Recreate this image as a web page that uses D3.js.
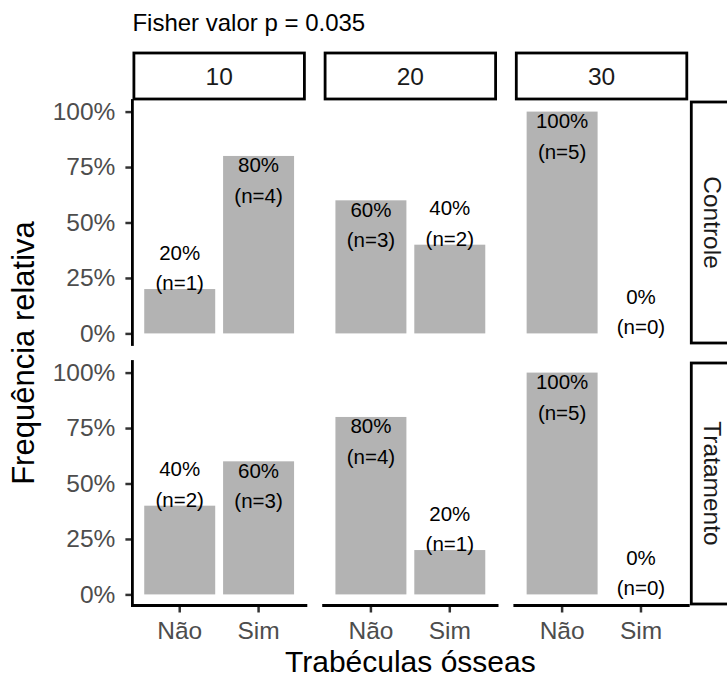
<!DOCTYPE html>
<html><head><meta charset="utf-8">
<script src="https://cdn.jsdelivr.net/npm/d3@7"></script>
<style>
body{margin:0;background:#fff}
svg{display:block}
text{font-family:"Liberation Sans",Arial,sans-serif}
</style>
</head><body><svg id="chart" width="727" height="679"></svg>
<script>
// ---- data ----
const doses = ["10", "20", "30"];
const groups = ["Controle", "Tratamento"];
const categories = ["Não", "Sim"];
const yTicks = [0, 0.25, 0.5, 0.75, 1];
const yTickLabels = ["0%", "25%", "50%", "75%", "100%"];
// per dose: [Não, Sim]
const pctControle = [[20, 80], [60, 40], [100, 0]];
const nControle = [[1, 4], [3, 2], [5, 0]];
const pctTratamento = [[40, 60], [80, 20], [100, 0]];
const nTratamento = [[2, 3], [4, 1], [5, 0]];
const titleText = "Fisher valor p = 0.035";
const xTitleText = "Trabéculas ósseas";
const yTitleText = "Frequência relativa";

// ---- layout ----
const svg = d3.select("#chart");
const panelLeft = 132.4, panelW = 173.5, gapX = 17.7;
const panelTop = 100.5, panelH = 244, gapY = 17;
const colX = doses.map((d, i) => panelLeft + i * (panelW + gapX));
const rowY = groups.map((g, i) => panelTop + i * (panelH + gapY));
const rightEdge = colX[2] + panelW;
const barFill = "#B3B3B3";
const labelFs = 20.5, lineGap = 30.5;
const axisFs = 24.5;

const pctRows = [pctControle, pctTratamento];
const nRows = [nControle, nTratamento];

const x = d3.scaleBand().domain(categories).range([0, panelW]).paddingInner(0.1).paddingOuter(0.15);
const y = d3.scaleLinear().domain([-0.05, 1.05]).range([panelH, 0]);

// title
svg.append("text").attr("x", panelLeft).attr("y", 30.5)
  .attr("font-size", 24).attr("fill", "#000").text(titleText);

groups.forEach((g, ri) => {
  doses.forEach((d, ci) => {
    const gp = svg.append("g").attr("transform", `translate(${colX[ci]},${rowY[ri]})`);
    const cells = categories.map((c, k) => ({
      cat: c, pct: pctRows[ri][ci][k], n: nRows[ri][ci][k]
    }));
    gp.selectAll("rect.bar").data(cells).enter().append("rect")
      .attr("class", "bar")
      .attr("x", e => x(e.cat))
      .attr("width", x.bandwidth())
      .attr("y", e => y(e.pct / 100))
      .attr("height", e => y(0) - y(e.pct / 100))
      .attr("fill", barFill);
    // labels (vjust = "inward")
    const lab = gp.selectAll("g.lab").data(cells).enter().append("g").attr("class", "lab");
    lab.each(function (e) {
      const cx = x(e.cat) + x.bandwidth() / 2;
      const yy = y(e.pct / 100);
      const inside = e.pct > 50;
      const b1 = inside ? yy + 16.5 : yy + 1 - lineGap;
      const sel = d3.select(this);
      sel.append("text").attr("x", cx).attr("y", b1).attr("text-anchor", "middle")
        .attr("font-size", labelFs).attr("fill", "#000").text(e.pct + "%");
      sel.append("text").attr("x", cx).attr("y", b1 + lineGap).attr("text-anchor", "middle")
        .attr("font-size", labelFs).attr("fill", "#000").text("(n=" + e.n + ")");
    });

    // y axis on first column
    if (ci === 0) {
      const ya = gp.append("g").call(
        d3.axisLeft(y).tickValues(yTicks).tickFormat((v, i) => yTickLabels[i])
          .tickSize(7).tickSizeOuter(0).tickPadding(10));
      ya.select(".domain").remove();
      ya.selectAll(".tick line").attr("stroke", "#333333").attr("stroke-width", 2.5);
      ya.selectAll(".tick text").attr("font-size", axisFs).attr("fill", "#4D4D4D")
        .attr("font-family", '"Liberation Sans",Arial,sans-serif');
      gp.append("line").attr("x1", 0).attr("x2", 0).attr("y1", 0).attr("y2", panelH)
        .attr("stroke", "#000").attr("stroke-width", 2.8).attr("stroke-linecap", "square");
    }
    // x axis on bottom row
    if (ri === groups.length - 1) {
      const xa = gp.append("g").attr("transform", `translate(0,${panelH})`).call(
        d3.axisBottom(x).tickSize(7).tickSizeOuter(0).tickPadding(9.2));
      xa.select(".domain").remove();
      xa.selectAll(".tick line").attr("stroke", "#333333").attr("stroke-width", 2.5);
      xa.selectAll(".tick text").attr("font-size", axisFs).attr("fill", "#4D4D4D")
        .attr("font-family", '"Liberation Sans",Arial,sans-serif');
      gp.append("line").attr("x1", 0).attr("x2", panelW).attr("y1", panelH).attr("y2", panelH)
        .attr("stroke", "#000").attr("stroke-width", 2.8).attr("stroke-linecap", "square");
    }
  });
});

// top strips
doses.forEach((d, ci) => {
  svg.append("rect").attr("x", colX[ci] + 1.5).attr("y", 53).attr("width", panelW - 3).attr("height", 46)
    .attr("fill", "#fff").attr("stroke", "#000").attr("stroke-width", 2.8);
  svg.append("text").attr("x", colX[ci] + panelW / 2).attr("y", 76).attr("dy", "0.36em")
    .attr("text-anchor", "middle").attr("font-size", axisFs).attr("fill", "#1A1A1A").text(d);
});
// right strips
groups.forEach((g, ri) => {
  svg.append("rect").attr("x", rightEdge + 3).attr("y", rowY[ri] + 1.5).attr("width", 46).attr("height", panelH - 3)
    .attr("fill", "#fff").attr("stroke", "#000").attr("stroke-width", 2.8);
  svg.append("text").attr("transform", `translate(${rightEdge + 24.5},${rowY[ri] + panelH / 2}) rotate(90)`)
    .attr("dy", "0.36em").attr("text-anchor", "middle").attr("font-size", axisFs).attr("fill", "#1A1A1A").text(g);
});

// axis titles
svg.append("text").attr("x", (panelLeft + rightEdge) / 2).attr("y", 672)
  .attr("text-anchor", "middle").attr("font-size", 30).attr("fill", "#000").text(xTitleText);
svg.append("text").attr("transform", `translate(34,${(rowY[0] + rowY[1] + panelH) / 2}) rotate(-90)`)
  .attr("text-anchor", "middle").attr("font-size", 31).attr("fill", "#000").text(yTitleText);
</script>
</body></html>
